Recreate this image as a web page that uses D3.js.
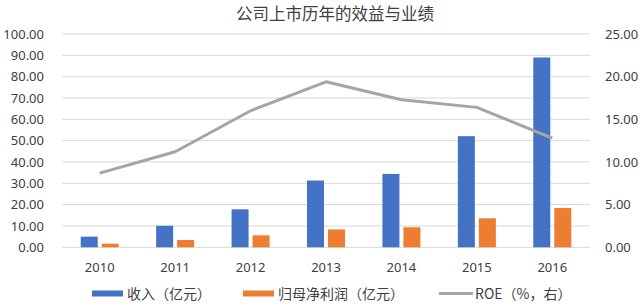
<!DOCTYPE html>
<html><head><meta charset="utf-8">
<script src="https://cdn.jsdelivr.net/npm/d3@7"></script>
<style>body{margin:0;background:#fff}svg{display:block}</style>
</head><body>
<svg id="c" width="643" height="304"></svg>
<script>
const title = "公司上市历年的效益与业绩";
const years = ["2010","2011","2012","2013","2014","2015","2016"];
const revenue = [5.0, 10.1, 17.8, 31.3, 34.4, 52.1, 89.0];
const netProfit = [1.7, 3.4, 5.6, 8.4, 9.4, 13.6, 18.4];
const roe = [8.7, 11.2, 16.0, 19.4, 17.3, 16.4, 12.8];
const leftTicks = [0,10,20,30,40,50,60,70,80,90,100];
const rightTicks = [0,5,10,15,20,25];
const seriesNames = ["收入（亿元）","归母净利润（亿元）","ROE（%，右）"];
const colors = ["#4472c4","#ed7d31","#a5a5a5"];

const svg = d3.select("#c");
const font = "'Noto Sans','Noto Sans CJK SC',sans-serif";
const txt = "#404040";
const L = 62, R = 590, T = 34, B = 247.3;

const x = d3.scaleBand().domain(years).range([L, R]).paddingInner(0).paddingOuter(0);
const yL = d3.scaleLinear().domain([0,100]).range([B, T]);
const yR = d3.scaleLinear().domain([0,25]).range([B, T]);

svg.append("text").attr("x", 335).attr("y", 20).attr("text-anchor","middle")
  .attr("font-family","'Noto Sans CJK SC',sans-serif").attr("font-size",16.5).attr("fill",txt).text(title);

// gridlines
svg.append("g").selectAll("line").data(leftTicks).join("line")
  .attr("x1",L).attr("x2",R).attr("y1",d=>yL(d)).attr("y2",d=>yL(d))
  .attr("stroke","#d9d9d9").attr("stroke-width",1);

// left axis
const gl = svg.append("g").attr("transform",`translate(${L},0)`)
  .call(d3.axisLeft(yL).tickValues(leftTicks).tickSize(0).tickPadding(18).tickFormat(d3.format(".2f")));
gl.select(".domain").remove();
gl.selectAll("text").attr("font-family",font).attr("font-size",13).attr("fill",txt);

// right axis
const gr = svg.append("g").attr("transform",`translate(${R},0)`)
  .call(d3.axisRight(yR).tickValues(rightTicks).tickSize(0).tickPadding(15).tickFormat(d3.format(".2f")));
gr.select(".domain").remove();
gr.selectAll("text").attr("font-family",font).attr("font-size",13).attr("fill",txt);

// x axis labels
const gx = svg.append("g").attr("transform",`translate(0,${B})`)
  .call(d3.axisBottom(x).tickSize(0).tickPadding(15));
gx.select(".domain").remove();
gx.selectAll("text").attr("font-family",font).attr("font-size",13).attr("fill",txt);

// bars
const bw = 17, gap = 4;
const bars = svg.append("g");
bars.selectAll(".rev").data(years).join("rect")
  .attr("x",(d)=>x(d)+x.bandwidth()/2 - gap/2 - bw)
  .attr("y",(d,i)=>yL(revenue[i])).attr("width",bw)
  .attr("height",(d,i)=>yL(0)-yL(revenue[i])).attr("fill",colors[0]);
bars.selectAll(".np").data(years).join("rect")
  .attr("x",(d)=>x(d)+x.bandwidth()/2 + gap/2)
  .attr("y",(d,i)=>yL(netProfit[i])).attr("width",bw)
  .attr("height",(d,i)=>yL(0)-yL(netProfit[i])).attr("fill",colors[1]);

// line
const line = d3.line().x((d,i)=>x(years[i])+x.bandwidth()/2).y(d=>yR(d));
svg.append("path").datum(roe).attr("d",line).attr("fill","none")
  .attr("stroke",colors[2]).attr("stroke-width",3).attr("stroke-linejoin","round");

// legend
const lg = svg.append("g");
const items = [{sx:92, tx:127, type:"rect"},{sx:243, tx:278, type:"rect"},{sx:439, tx:475, type:"line"}];
items.forEach((it,i)=>{
  if(it.type==="rect"){
    lg.append("rect").attr("x",it.sx).attr("y",290.5).attr("width",31).attr("height",6).attr("fill",colors[i]);
  } else {
    lg.append("line").attr("x1",it.sx).attr("x2",it.sx+34).attr("y1",293.5).attr("y2",293.5)
      .attr("stroke",colors[i]).attr("stroke-width",3);
  }
  lg.append("text").attr("x",it.tx).attr("y",298.5).attr("font-family","'Noto Sans CJK SC',sans-serif")
    .attr("font-size",14).attr("fill",txt).text(seriesNames[i]);
});
</script>
</body></html>
